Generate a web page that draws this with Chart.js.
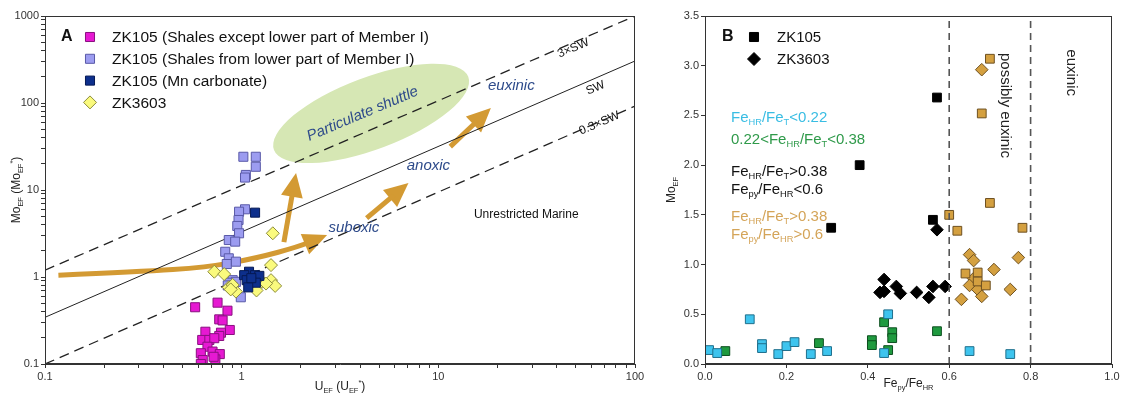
<!DOCTYPE html>
<html><head><meta charset="utf-8">
<script src="https://cdn.jsdelivr.net/npm/chart.js@4.4.0/dist/chart.umd.min.js"></script>
<style>
html,body{margin:0;padding:0;background:#fff;width:1126px;height:395px;overflow:hidden}
canvas{position:absolute;top:0}
#ca{left:0}
#cb{left:655px}
</style></head><body>
<canvas id="ca" width="650" height="395"></canvas>
<canvas id="cb" width="471" height="395"></canvas>
<script>
// ---------- Panel A data ----------
const magU=[0.58,0.754,0.847,0.769,0.80,0.87,0.654,0.785,0.769,0.63,0.685,0.726,0.67,0.62,0.711,0.774,0.634,0.735,0.62,0.72];
const magMo=[0.449,0.507,0.41,0.326,0.317,0.246,0.235,0.229,0.21,0.189,0.189,0.198,0.158,0.133,0.139,0.130,0.111,0.113,0.10,0.121];
const lavU=[1.02,1.18,1.18,1.05,1.04,1.04,0.97,0.964,0.95,0.97,0.86,0.927,0.825,0.86,0.84,0.935,0.90,0.86,0.935,0.90,0.99,0.85];
const lavMo=[24.1,24.1,18.5,14.9,13.9,6.0,5.63,4.52,3.86,3.18,2.66,2.55,1.95,1.64,1.41,1.50,0.92,0.86,0.88,0.76,0.585,0.80];
const mnU=[1.17,1.09,1.03,1.17,1.23,1.06,1.18,1.08,1.12];
const mnMo=[5.49,1.15,1.05,1.05,1.03,0.92,0.86,0.76,0.97];
const zkU=[1.44,1.41,0.726,0.815,1.41,1.48,0.86,0.935,1.19,1.27,0.90,0.88,1.33];
const zkMo=[3.18,1.37,1.15,1.08,0.92,0.79,0.76,0.68,0.70,0.88,0.81,0.72,0.84];
// reference lines (U, Mo endpoints)
const sw3U=[0.1,100], sw3Mo=[1.2,1000];
const swU=[0.1,100], swMo=[0.344,304];
const sw03U=[0.1,100], sw03Mo=[0.1,92];
const legendA=["ZK105 (Shales except lower part of Member I)","ZK105 (Shales from lower part of Member I)","ZK105 (Mn carbonate)","ZK3603"];
// axis decades (tick labels)
const decadesU=[0.1,1,10,100];
const decadesMo=[0.1,1,10,100,1000];
const minorSteps=[1,2,3,4,5,6,7,8,9];
// annotations in data units
const shuttleEnds={u:[1.46,14.2],mo:[28.9,200]};
const curveU=[0.117,0.303,0.659,1.18,1.95,2.72], curveMo=[1.05,1.15,1.29,1.64,2.23,3.04];
const arrowsA=[{u:[1.64,1.89],mo:[2.52,15.7]},{u:[4.32,7.05],mo:[4.76,12.0]},{u:[11.5,18.5],mo:[31.5,87.7]}];
const labelsA=[
 {t:"euxinic",u:23.5,mo:157},
 {t:"anoxic",u:8.9,mo:18.9},
 {t:"suboxic",u:3.72,mo:3.63},
];
// ---------- Panel B data ----------
const cyanX=[0.01,0.03,0.11,0.14,0.14,0.18,0.20,0.22,0.26,0.30,0.44,0.45,0.65,0.75];
const cyanY=[0.14,0.11,0.45,0.20,0.16,0.10,0.18,0.22,0.10,0.13,0.11,0.50,0.13,0.10];
const greenX=[0.05,0.28,0.41,0.41,0.44,0.46,0.46,0.45,0.57];
const greenY=[0.13,0.21,0.24,0.19,0.42,0.32,0.26,0.14,0.33];
const blkSqX=[0.31,0.38,0.57,0.56];
const blkSqY=[1.37,2.00,2.68,1.45];
const blkDiX=[0.43,0.44,0.44,0.47,0.48,0.52,0.55,0.56,0.59,0.57];
const blkDiY=[0.72,0.85,0.73,0.78,0.71,0.72,0.67,0.78,0.78,1.35];
const goldSqX=[0.70,0.68,0.70,0.60,0.62,0.78,0.64,0.67,0.67,0.69];
const goldSqY=[3.07,2.52,1.62,1.50,1.34,1.37,0.91,0.92,0.83,0.79];
const goldDiX=[0.68,0.65,0.66,0.77,0.71,0.66,0.65,0.67,0.68,0.63,0.75];
const goldDiY=[2.96,1.10,1.04,1.07,0.95,0.86,0.79,0.75,0.68,0.65,0.75];
const boundX=[0.6,0.8];

const FONT='"Liberation Sans", Arial, sans-serif';
const zip=(a,b)=>a.map((v,i)=>({x:v,y:b[i]}));

function rich(ctx,str,x,y,size,color,align,opts){
  opts=opts||{};
  const parts=[];const re=/([_^])\{([^}]*)\}/g;let last=0,m;
  while((m=re.exec(str))){if(m.index>last)parts.push([str.slice(last,m.index),0]);parts.push([m[2],m[1]==='_'?1:2]);last=re.lastIndex;}
  if(last<str.length)parts.push([str.slice(last),0]);
  const base=(opts.bold?'bold ':'')+(opts.italic?'italic ':'');
  const f=k=>base+(k?size*0.62:size)+'px '+FONT;
  let w=0;parts.forEach(p=>{ctx.font=f(p[1]);w+=ctx.measureText(p[0]).width;});
  let cx=align==='center'?x-w/2:(align==='right'?x-w:x);
  ctx.textBaseline='middle';ctx.textAlign='left';ctx.fillStyle=color;
  parts.forEach(p=>{ctx.font=f(p[1]);const dy=p[1]===1?size*0.32:(p[1]===2?-size*0.3:0);ctx.fillText(p[0],cx,y+dy);cx+=ctx.measureText(p[0]).width;});
}
function marker(ctx,style,x,y,r,fill,stroke){
  ctx.save();ctx.fillStyle=fill;ctx.strokeStyle=stroke;ctx.lineWidth=1;ctx.beginPath();
  if(style==='rect'){const s=r*Math.SQRT1_2;ctx.rect(x-s,y-s,2*s,2*s);}
  else{ctx.moveTo(x,y-r);ctx.lineTo(x+r,y);ctx.lineTo(x,y+r);ctx.lineTo(x-r,y);ctx.closePath();}
  ctx.fill();ctx.stroke();ctx.restore();
}
function head(ctx,x1,y1,x2,y2,len,half){
  const a=Math.atan2(y2-y1,x2-x1),c=Math.cos(a),s=Math.sin(a);
  ctx.beginPath();ctx.moveTo(x2,y2);
  ctx.lineTo(x2-len*c+half*s,y2-len*s-half*c);
  ctx.lineTo(x2-len*c-half*s,y2-len*s+half*c);ctx.closePath();ctx.fill();
  return [x2-len*c*0.8,y2-len*s*0.8];
}
function frame(chart){const {ctx,chartArea:a}=chart;ctx.save();ctx.strokeStyle='#333';ctx.lineWidth=1;ctx.strokeRect(a.left+0.5,a.top+0.5,a.right-a.left-1,a.bottom-a.top-1);ctx.restore();}
function logTicks(decades){const out=[];decades.forEach((d,i)=>{if(i===decades.length-1){out.push({value:d});return;}minorSteps.forEach(k=>out.push({value:Number((d*k).toPrecision(3))}));});return out;}

const GOLD='#d39a33';
const colsA=[['#e619d2','#8a1080','rect'],['#9c9cf0','#5a5aa8','rect'],['#0d2f8c','#061a55','rect'],['#fafa7d','#8c8c3c','rectRot']];

const pluginA={id:'decorA',
 beforeDatasetsDraw(chart){
  const {ctx,scales:{x,y},chartArea:a}=chart;
  ctx.save();ctx.beginPath();ctx.rect(a.left,a.top,a.right-a.left,a.bottom-a.top);ctx.clip();
  const x1=x.getPixelForValue(shuttleEnds.u[0]),y1=y.getPixelForValue(shuttleEnds.mo[0]);
  const x2=x.getPixelForValue(shuttleEnds.u[1]),y2=y.getPixelForValue(shuttleEnds.mo[1]);
  ctx.fillStyle='#d6e7b4';ctx.beginPath();
  ctx.ellipse((x1+x2)/2,(y1+y2)/2,Math.hypot(x2-x1,y2-y1)/2,36,Math.atan2(y2-y1,x2-x1),0,Math.PI*2);ctx.fill();
  const pts=curveU.map((u,i)=>[x.getPixelForValue(u),y.getPixelForValue(curveMo[i])]);
  ctx.fillStyle=GOLD;ctx.strokeStyle=GOLD;ctx.lineWidth=5;ctx.lineCap='butt';
  const n=pts.length;const base=head(ctx,pts[n-2][0],pts[n-2][1],pts[n-1][0],pts[n-1][1],24,11);
  ctx.beginPath();ctx.moveTo(pts[0][0],pts[0][1]);
  for(let i=1;i<n-2;i++){const mx=(pts[i][0]+pts[i+1][0])/2,my=(pts[i][1]+pts[i+1][1])/2;ctx.quadraticCurveTo(pts[i][0],pts[i][1],mx,my);}
  ctx.quadraticCurveTo(pts[n-2][0],pts[n-2][1],base[0],base[1]);ctx.stroke();
  arrowsA.forEach(ar=>{
   const ax=x.getPixelForValue(ar.u[0]),ay=y.getPixelForValue(ar.mo[0]),bx=x.getPixelForValue(ar.u[1]),by=y.getPixelForValue(ar.mo[1]);
   const b=head(ctx,ax,ay,bx,by,24,11);ctx.beginPath();ctx.moveTo(ax,ay);ctx.lineTo(b[0],b[1]);ctx.stroke();
  });
  ctx.restore();
 },
 afterDatasetsDraw(chart){
  const {ctx,scales:{x,y}}=chart;
  frame(chart);
  ctx.save();
  ctx.save();ctx.translate(x.getPixelForValue(4.12),y.getPixelForValue(74.8));ctx.rotate(-0.40);
  ctx.font='italic 15px '+FONT;ctx.fillStyle='#2d4a8a';ctx.textAlign='center';ctx.textBaseline='middle';ctx.fillText('Particulate shuttle',0,0);ctx.restore();
  labelsA.forEach(l=>{ctx.font='italic 15px '+FONT;ctx.fillStyle='#2d4a8a';ctx.textAlign='center';ctx.textBaseline='middle';ctx.fillText(l.t,x.getPixelForValue(l.u),y.getPixelForValue(l.mo));});
  ctx.font='12px '+FONT;ctx.fillStyle='#111';ctx.textAlign='center';
  ctx.fillText('Unrestricted Marine',x.getPixelForValue(28),y.getPixelForValue(5.16));
  const ang=Math.atan2(y.getPixelForValue(swMo[1])-y.getPixelForValue(swMo[0]),x.getPixelForValue(swU[1])-x.getPixelForValue(swU[0]));
  [['3×SW',48.6,426],['SW',63,149],['0.3×SW',65.9,58.5]].forEach(t=>{
   ctx.save();ctx.translate(x.getPixelForValue(t[1]),y.getPixelForValue(t[2]));ctx.rotate(ang);ctx.font='12px '+FONT;ctx.fillStyle='#111';ctx.textAlign='center';ctx.textBaseline='middle';ctx.fillText(t[0],0,0);ctx.restore();
  });
  ctx.font='bold 16px '+FONT;ctx.fillStyle='#111';ctx.textAlign='left';ctx.textBaseline='middle';ctx.fillText('A',61,37);
  legendA.forEach((t,i)=>{
   const yy=37+i*21.8;const c=colsA[i];
   marker(ctx,c[2],90,yy,c[2]==='rect'?6.4:6.5,c[0],c[1]);
   ctx.font='15.5px '+FONT;ctx.fillStyle='#111';ctx.textAlign='left';ctx.fillText(t,112,yy+1);
  });
  ctx.restore();
 },
 afterDraw(chart){
  const {ctx,chartArea:a}=chart;ctx.save();
  rich(ctx,'U_{EF} (U_{EF}^{*})',(a.left+a.right)/2,387,12,'#222','center');
  ctx.translate(17,(a.top+a.bottom)/2);ctx.rotate(-Math.PI/2);
  rich(ctx,'Mo_{EF} (Mo_{EF}^{*})',0,0,12,'#222','center');
  ctx.restore();
 }
};

const logLabel=(v)=>{const l=Math.log10(v);return Math.abs(l-Math.round(l))<1e-6?String(Number(v.toPrecision(3))):'';};
const tickFont={family:FONT,size:11};
const axisCommon={grid:{drawOnChartArea:false,tickLength:4,color:'#333'},border:{color:'#333'}};

new Chart(document.getElementById('ca'),{
 type:'scatter',
 data:{datasets:[
  {type:'line',data:zip(sw3U,sw3Mo),borderColor:'#222',borderWidth:1.3,borderDash:[10,6],pointRadius:0,order:10},
  {type:'line',data:zip(swU,swMo),borderColor:'#222',borderWidth:1,pointRadius:0,order:10},
  {type:'line',data:zip(sw03U,sw03Mo),borderColor:'#222',borderWidth:1.3,borderDash:[10,6],pointRadius:0,order:10},
  {label:legendA[0],data:zip(magU,magMo),pointStyle:'rect',pointRadius:6.4,backgroundColor:colsA[0][0],borderColor:colsA[0][1],borderWidth:1,order:5},
  {label:legendA[1],data:zip(lavU,lavMo),pointStyle:'rect',pointRadius:6.4,backgroundColor:colsA[1][0],borderColor:colsA[1][1],borderWidth:1,order:4},
  {label:legendA[3],data:zip(zkU,zkMo),pointStyle:'rectRot',pointRadius:6.5,backgroundColor:colsA[3][0],borderColor:colsA[3][1],borderWidth:1,order:3},
  {label:legendA[2],data:zip(mnU,mnMo),pointStyle:'rect',pointRadius:6.4,backgroundColor:colsA[2][0],borderColor:colsA[2][1],borderWidth:1,order:2}
 ]},
 options:{responsive:false,animation:false,events:[],
  layout:{padding:{left:0,right:15,top:16,bottom:0}},
  plugins:{legend:{display:false},tooltip:{enabled:false}},
  scales:{
   x:{type:'logarithmic',min:0.1,max:100,...axisCommon,afterFit(s){s.height=31;},afterBuildTicks(s){s.ticks=logTicks(decadesU);},
      ticks:{autoSkip:false,maxRotation:0,padding:2,color:'#333',font:tickFont,callback:logLabel}},
   y:{type:'logarithmic',min:0.1,max:1000,...axisCommon,afterFit(s){s.width=45;},afterBuildTicks(s){s.ticks=logTicks(decadesMo);},
      ticks:{autoSkip:false,padding:2,color:'#333',font:tickFont,callback:logLabel}}
  }
 },
 plugins:[pluginA]
});

// ---------- Panel B ----------
const legendB=["ZK105","ZK3603"];
const notesB=[
 ['Fe_{HR}/Fe_{T}<0.22','#39bde3',118],
 ['0.22<Fe_{HR}/Fe_{T}<0.38','#2f9a4a',140],
 ['Fe_{HR}/Fe_{T}>0.38','#111',172],
 ['Fe_{py}/Fe_{HR}<0.6','#111',190],
 ['Fe_{HR}/Fe_{T}>0.38','#d4a458',217],
 ['Fe_{py}/Fe_{HR}>0.6','#d4a458',235]
];
const pluginB={id:'decorB',
 afterDatasetsDraw(chart){
  const {ctx,scales:{x,y}}=chart;
  frame(chart);
  ctx.save();
  ctx.font='bold 16px '+FONT;ctx.fillStyle='#111';ctx.textAlign='left';ctx.textBaseline='middle';ctx.fillText('B',67,37);
  marker(ctx,'rect',99,37,6.4,'#000','#000');
  marker(ctx,'rectRot',99,59,6.5,'#000','#000');
  ctx.font='15px '+FONT;ctx.fillStyle='#111';
  ctx.fillText(legendB[0],122,38);ctx.fillText(legendB[1],122,60);
  notesB.forEach(n=>rich(ctx,n[0],76,n[2],15,n[1],'left'));
  [['possibly euxinic',0.737,2.6],['euxinic',0.9,2.93]].forEach(t=>{
   ctx.save();ctx.translate(x.getPixelForValue(t[1]),y.getPixelForValue(t[2]));ctx.rotate(Math.PI/2);
   ctx.font='15px '+FONT;ctx.fillStyle='#222';ctx.textAlign='center';ctx.textBaseline='middle';ctx.fillText(t[0],0,0);ctx.restore();
  });
  ctx.restore();
 },
 afterDraw(chart){
  const {ctx,chartArea:a}=chart;ctx.save();
  rich(ctx,'Fe_{py}/Fe_{HR}',(a.left+a.right)/2,384,12,'#222','center');
  ctx.translate(17,(a.top+a.bottom)/2);ctx.rotate(-Math.PI/2);
  rich(ctx,'Mo_{EF}',0,0,12,'#222','center');
  ctx.restore();
 }
};
const sq=(d,f,b)=>({data:d,pointStyle:'rect',pointRadius:6.2,backgroundColor:f,borderColor:b,borderWidth:1});
const di=(d,f,b)=>({data:d,pointStyle:'rectRot',pointRadius:6.3,backgroundColor:f,borderColor:b,borderWidth:1});
new Chart(document.getElementById('cb'),{
 type:'scatter',
 data:{datasets:[
  {type:'line',data:[{x:boundX[0],y:0},{x:boundX[0],y:3.5}],borderColor:'#555',borderWidth:1.6,borderDash:[7,5],pointRadius:0},
  {type:'line',data:[{x:boundX[1],y:0},{x:boundX[1],y:3.5}],borderColor:'#555',borderWidth:1.6,borderDash:[7,5],pointRadius:0},
  sq(zip(cyanX,cyanY),'#3ec4ee','#1f6f8c'),
  sq(zip(greenX,greenY),'#1f9a3f','#0d4f1f'),
  sq(zip(blkSqX,blkSqY),'#000','#000'),
  di(zip(blkDiX,blkDiY),'#000','#000'),
  sq(zip(goldSqX,goldSqY),'#d4a040','#6e5020'),
  di(zip(goldDiX,goldDiY),'#d4a040','#6e5020')
 ]},
 options:{responsive:false,animation:false,events:[],
  layout:{padding:{left:0,right:14,top:16,bottom:0}},
  plugins:{legend:{display:false},tooltip:{enabled:false}},
  scales:{
   x:{type:'linear',min:0,max:1,...axisCommon,afterFit(s){s.height=31;},
      ticks:{stepSize:0.2,autoSkip:false,maxRotation:0,padding:2,color:'#333',font:tickFont,callback:v=>v.toFixed(1)}},
   y:{type:'linear',min:0,max:3.5,...axisCommon,afterFit(s){s.width=50;},
      ticks:{stepSize:0.5,autoSkip:false,padding:2,color:'#333',font:tickFont,callback:v=>v.toFixed(1)}}
  }
 },
 plugins:[pluginB]
});
</script>
</body></html>
